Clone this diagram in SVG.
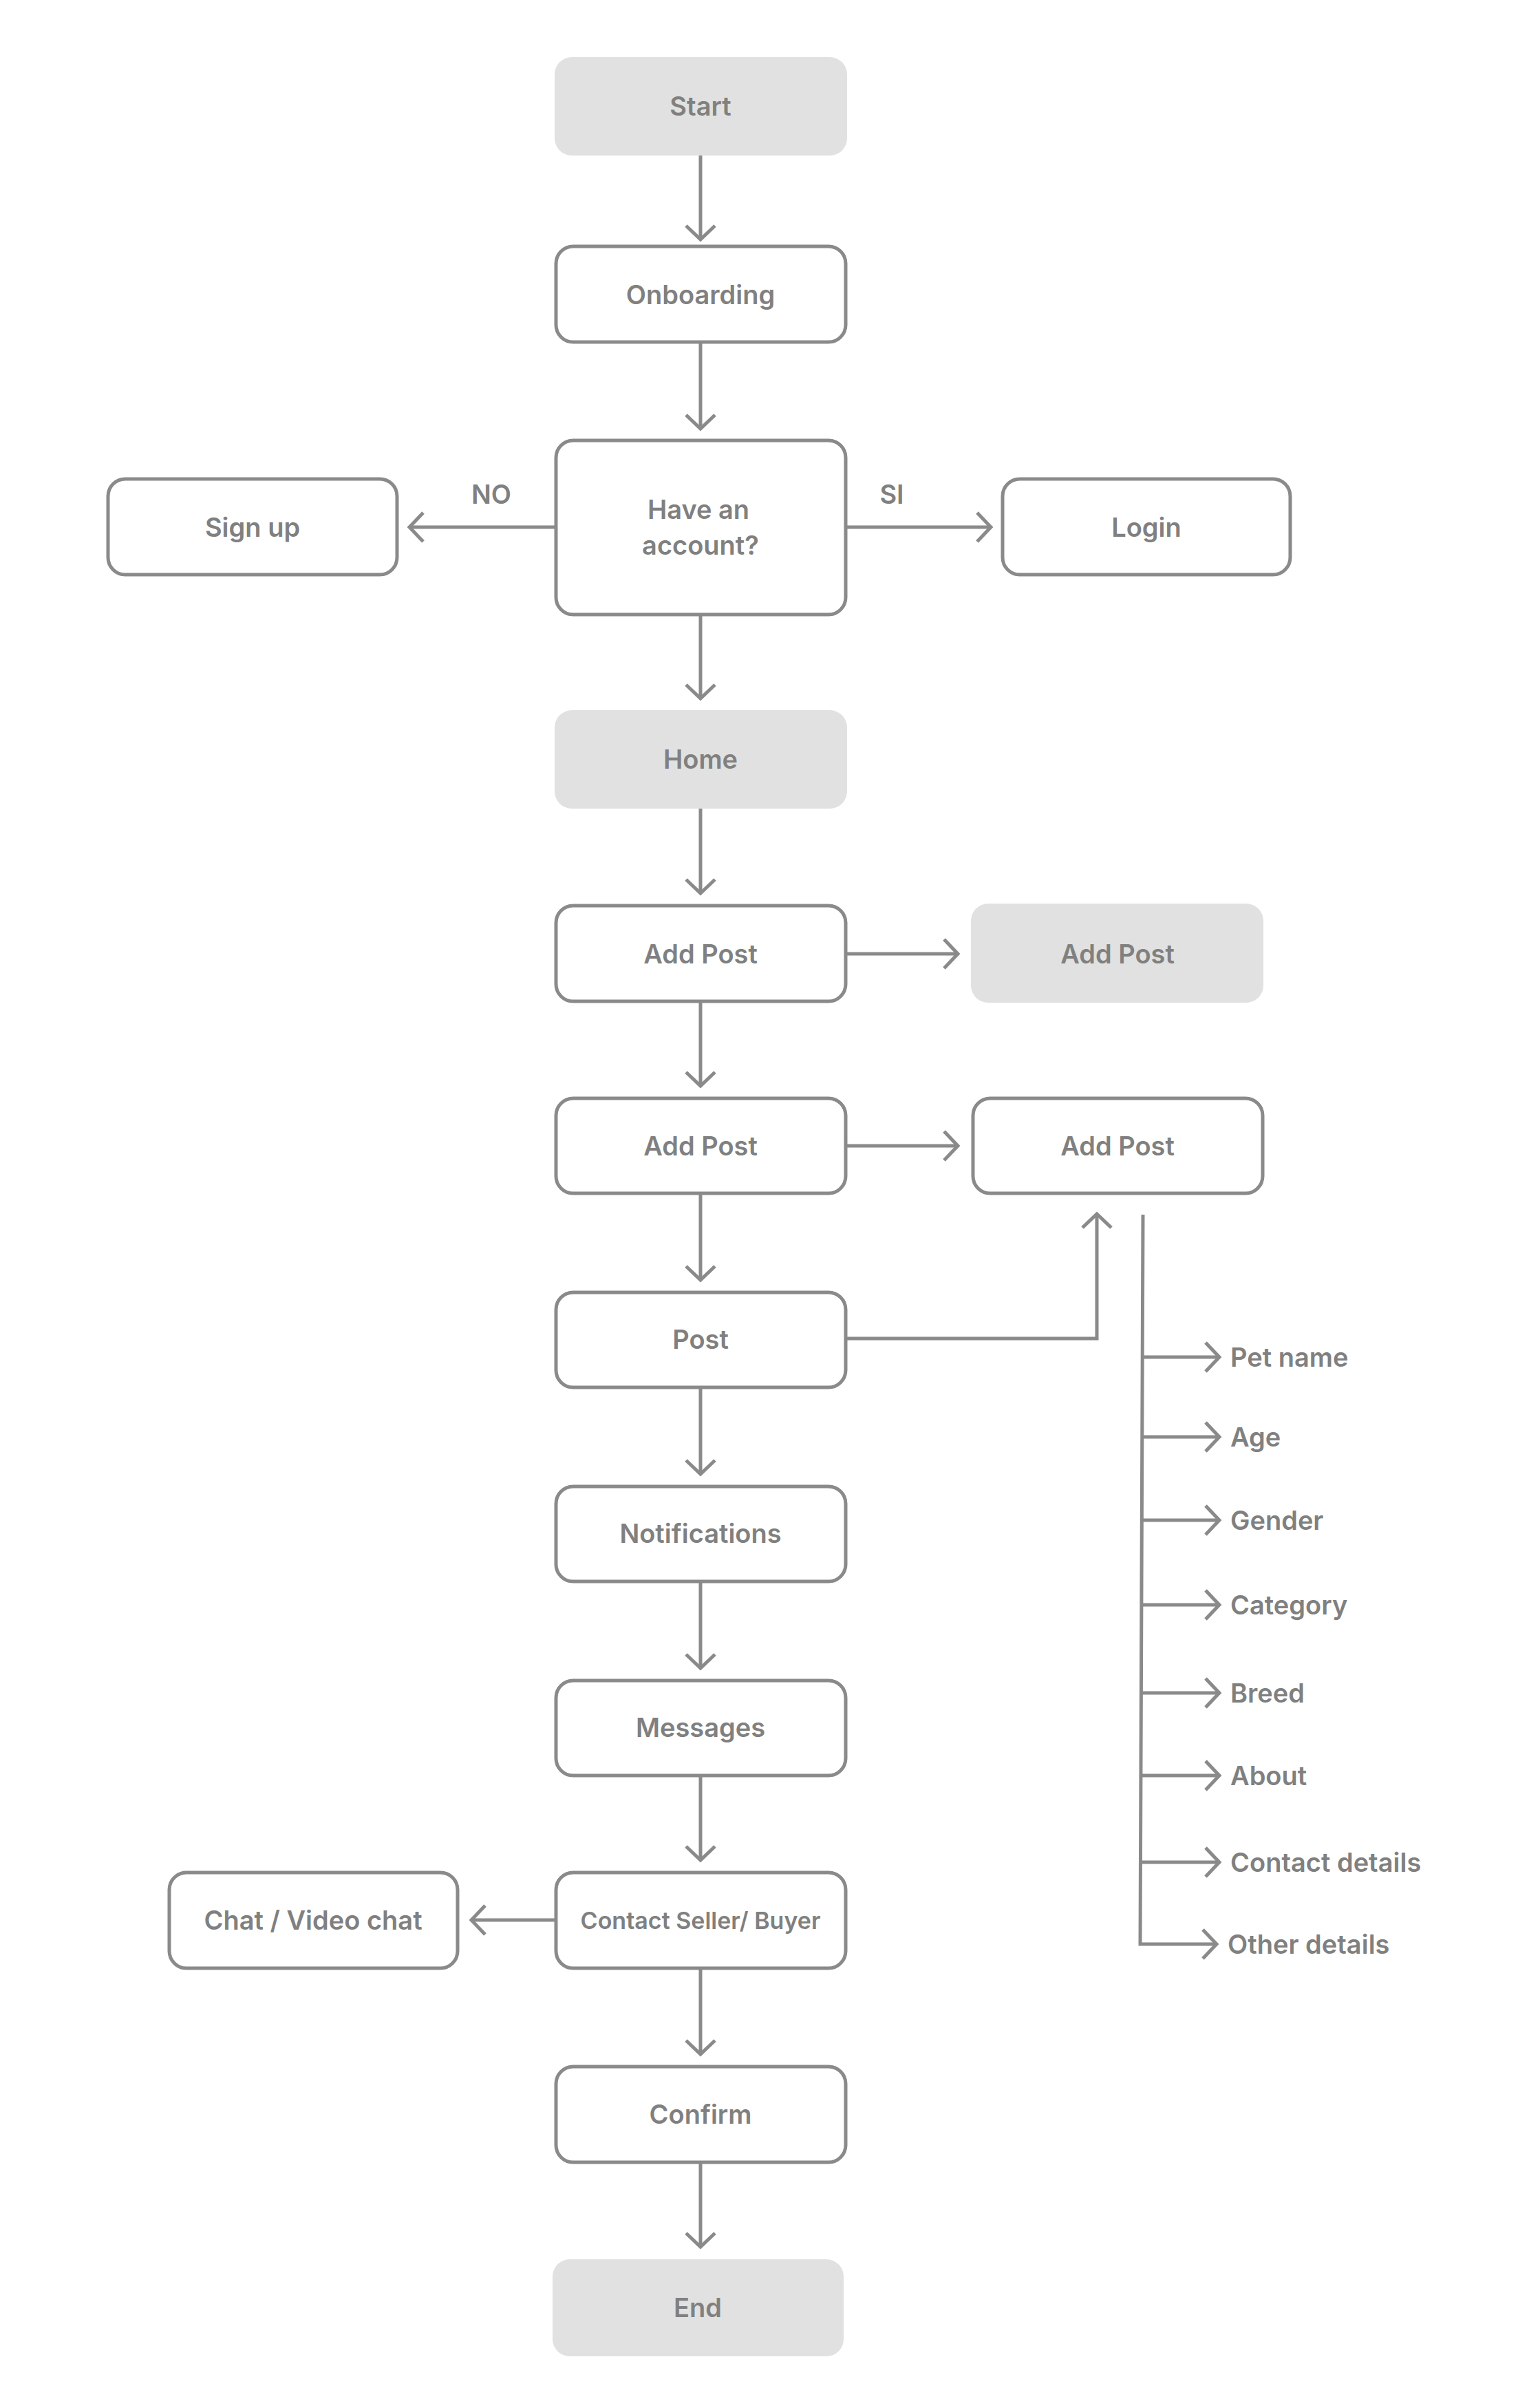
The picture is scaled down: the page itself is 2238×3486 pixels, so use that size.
<svg xmlns="http://www.w3.org/2000/svg" width="2238" height="3486" viewBox="0 0 2238 3486">
<style>
.b{fill:#fff;stroke:#8a8a8a;stroke-width:5}
.f{fill:#e1e1e1}
text{font-family:Inter,"Liberation Sans",sans-serif;font-weight:600;font-size:38px;fill:#808080;text-anchor:middle;dominant-baseline:central}
.l{text-anchor:start}
.c{fill:none;stroke:#8a8a8a;stroke-width:5}
</style>
<defs>
<marker id="a" markerUnits="userSpaceOnUse" markerWidth="50" markerHeight="50" refX="40" refY="25" orient="auto" viewBox="0 0 50 50">
<path d="M20 4 L40 25 L20 46" fill="none" stroke="#8a8a8a" stroke-width="5"/>
</marker>
</defs>
<rect width="2238" height="3486" fill="#fff"/>
<g id="connectors" class="c">
<path d="M1018 226V348" marker-end="url(#a)"/>
<path d="M1018 497V623" marker-end="url(#a)"/>
<path d="M808 766H595" marker-end="url(#a)"/>
<path d="M1229 766H1440" marker-end="url(#a)"/>
<path d="M1018 893V1015" marker-end="url(#a)"/>
<path d="M1018 1175V1298" marker-end="url(#a)"/>
<path d="M1229 1386H1392" marker-end="url(#a)"/>
<path d="M1018 1455V1578" marker-end="url(#a)"/>
<path d="M1229 1665H1392" marker-end="url(#a)"/>
<path d="M1018 1734V1860" marker-end="url(#a)"/>
<path d="M1229 1945H1594V1764" marker-end="url(#a)"/>
<path d="M1018 2016V2142" marker-end="url(#a)"/>
<path d="M1018 2298V2424" marker-end="url(#a)"/>
<path d="M1018 2580V2703" marker-end="url(#a)"/>
<path d="M808 2790H685" marker-end="url(#a)"/>
<path d="M1018 2860V2985" marker-end="url(#a)"/>
<path d="M1018 3142V3265" marker-end="url(#a)"/>
<path d="M1661 1765L1657 2825H1768" marker-end="url(#a)"/>
<path d="M1661 1972H1772" marker-end="url(#a)"/>
<path d="M1660 2088H1772" marker-end="url(#a)"/>
<path d="M1660 2209H1772" marker-end="url(#a)"/>
<path d="M1659 2332H1772" marker-end="url(#a)"/>
<path d="M1659 2460H1772" marker-end="url(#a)"/>
<path d="M1658 2580H1772" marker-end="url(#a)"/>
<path d="M1658 2706H1772" marker-end="url(#a)"/>
</g>
<text x="714" y="718">NO</text>
<text x="1296" y="718">SI</text>
<g id="start"><rect class="f" x="806" y="83" width="425" height="143" rx="25"/><text x="1018" y="154">Start</text></g>
<g id="onboarding"><rect class="b" x="808" y="358" width="421" height="139" rx="25"/><text x="1018" y="428">Onboarding</text></g>
<g id="account"><rect class="b" x="808" y="640" width="421" height="253" rx="25"/><text x="1015" y="740">Have an</text><text x="1018" y="792">account?</text></g>
<g id="signup"><rect class="b" x="157" y="696" width="420" height="139" rx="25"/><text x="367" y="766">Sign up</text></g>
<g id="login"><rect class="b" x="1457" y="696" width="418" height="139" rx="25"/><text x="1666" y="766">Login</text></g>
<g id="home"><rect class="f" x="806" y="1032" width="425" height="143" rx="25"/><text x="1018" y="1103">Home</text></g>
<g id="addpost1"><rect class="b" x="808" y="1316" width="421" height="139" rx="25"/><text x="1018" y="1386">Add Post</text></g>
<g id="addpost1r"><rect class="f" x="1411" y="1313" width="425" height="144" rx="25"/><text x="1624" y="1386">Add Post</text></g>
<g id="addpost2"><rect class="b" x="808" y="1596" width="421" height="138" rx="25"/><text x="1018" y="1665">Add Post</text></g>
<g id="addpost2r"><rect class="b" x="1414" y="1596" width="421" height="138" rx="25"/><text x="1624" y="1665">Add Post</text></g>
<g id="post"><rect class="b" x="808" y="1878" width="421" height="138" rx="25"/><text x="1018" y="1946">Post</text></g>
<g id="notifications"><rect class="b" x="808" y="2160" width="421" height="138" rx="25"/><text x="1018" y="2228">Notifications</text></g>
<g id="messages"><rect class="b" x="808" y="2442" width="421" height="138" rx="25"/><text x="1018" y="2510">Messages</text></g>
<g id="contact"><rect class="b" x="808" y="2721" width="421" height="139" rx="25"/><text x="1018" y="2790" style="font-size:34px">Contact Seller/ Buyer</text></g>
<g id="chat"><rect class="b" x="246" y="2721" width="419" height="139" rx="25"/><text x="455" y="2790">Chat / Video chat</text></g>
<g id="confirm"><rect class="b" x="808" y="3003" width="421" height="139" rx="25"/><text x="1018" y="3072">Confirm</text></g>
<g id="end"><rect class="f" x="803" y="3283" width="423" height="141" rx="25"/><text x="1014" y="3353">End</text></g>
<g id="fields">
<text class="l" x="1788" y="1972">Pet name</text>
<text class="l" x="1788" y="2088">Age</text>
<text class="l" x="1788" y="2209">Gender</text>
<text class="l" x="1788" y="2332">Category</text>
<text class="l" x="1788" y="2460">Breed</text>
<text class="l" x="1788" y="2580">About</text>
<text class="l" x="1788" y="2706">Contact details</text>
<text class="l" x="1784" y="2825">Other details</text>
</g>
</svg>
